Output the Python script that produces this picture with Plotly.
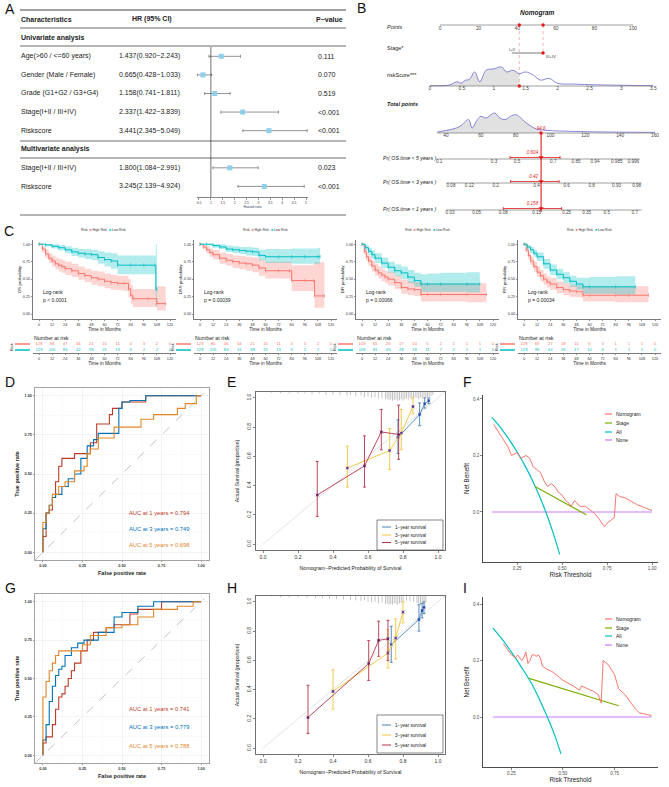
import numpy as np
import plotly.graph_objects as go

W, H = 669, 787
FF = "Liberation Sans, Arial, Helvetica, sans-serif"

# ===================== DATA =====================
# ---- A: Cox regression ----
uni_labels = ["Age(>60 / <=60 years)", "Gender (Male / Female)", "Grade (G1+G2 / G3+G4)",
              "Stage(I+II / III+IV)", "Riskscore"]
uni_hr = [1.437, 0.665, 1.158, 2.337, 3.441]
uni_lo = [0.920, 0.428, 0.741, 1.422, 2.345]
uni_hi = [2.243, 1.033, 1.811, 3.839, 5.049]
uni_p = ["0.111", "0.070", "0.519", "<0.001", "<0.001"]
multi_labels = ["Stage(I+II / III+IV)", "Riskscore"]
multi_hr = [1.800, 3.245]
multi_lo = [1.084, 2.139]
multi_hi = [2.991, 4.924]
multi_p = ["0.023", "<0.001"]
hr_ticks = [0.5, 1, 1.5, 2, 2.5, 3, 3.5, 4, 4.5, 5]

# ---- B: nomogram (positions on the "Points" scale) ----
points_ticks = [0, 20, 40, 60, 80, 100]
stage_levels = ["I+II", "III+IV"]
stage_pts = [37.3, 53.4]
rs_ticks = [0, 0.5, 1, 1.5, 2, 2.5, 3, 3.5]
rs_pt0, rs_slope = -5.2, 33.06
rs_dens_x = [0, 0.3, 0.42, 0.5, 0.55, 0.62, 0.7, 0.78, 0.88, 1.0, 1.12, 1.2, 1.3, 1.4, 1.5,
             1.62, 1.73, 1.87, 2.0, 2.25, 2.77, 3.5]
rs_dens_h = [0.02, 0.05, 0.22, 0.15, 0.3, 0.35, 0.74, 0.22, 0.83, 0.9, 1.0, 0.74, 0.83, 0.65,
             0.74, 0.57, 0.31, 0.4, 0.14, 0.1, 0.05, 0.02]
tp_ticks = [40, 60, 80, 100, 120, 140, 160]
tp_pt0, tp_slope = 3.1, 0.9025
tp_dens_x = [35, 44, 48, 53, 55, 58, 60, 63, 66, 68, 71, 74, 77, 80, 83, 85, 89, 92, 98, 113, 132, 160]
tp_dens_h = [0.05, 0.2, 0.33, 0.67, 0.25, 0.67, 0.83, 0.75, 0.92, 1.0, 0.75, 0.67, 0.83, 0.92,
             0.75, 0.58, 0.33, 0.2, 0.13, 0.08, 0.05, 0.03]
obs_rs = 1.4
obs_total = 94.6
pr5_labels = ["0.1", "0.3", "0.5", "0.7", "0.85", "0.94", "0.985", "0.996"]
pr5_pos = [-0.4, 28, 39.9, 58.7, 70.5, 80.3, 91.6, 100.2]
pr3_labels = ["0.08", "0.12", "0.2", "0.4", "0.6", "0.8", "0.93", "0.98"]
pr3_pos = [5.7, 15.2, 28.8, 50.1, 65.6, 78.6, 91.5, 101.9]
pr1_labels = ["0.03", "0.05", "0.08", "0.15", "0.25", "0.35", "0.5", "0.7"]
pr1_pos = [5.2, 19, 32.8, 50.1, 65.6, 76, 86.4, 101]
pr_values = ["0.604", "0.42", "0.158"]
pr_ci = [(36.3, 62.2), (36.6, 61.7), (32.8, 63.0)]

# ---- C: Kaplan-Meier (time, surv, lower, upper) ----
os_high = ([0, 3, 6, 9, 12, 15, 18, 21, 24, 30, 36, 42, 48, 54, 60, 66, 72, 78, 82, 84, 86, 100, 108, 116],
           [1, .93, .86, .80, .76, .72, .70, .68, .65, .62, .58, .55, .52, .50, .47, .45, .44, .44, .36, .27, .22, .22, .15, .15],
           [1, .88, .80, .73, .68, .64, .61, .59, .56, .53, .49, .46, .42, .40, .37, .35, .34, .33, .24, .15, .10, .10, .05, .05],
           [1, .97, .92, .87, .84, .81, .79, .77, .75, .72, .68, .65, .62, .61, .58, .56, .55, .55, .50, .42, .36, .36, .40, .40])
os_low = ([0, 6, 12, 18, 24, 30, 36, 42, 48, 54, 60, 66, 72, 84, 96, 106, 107, 108],
          [1, .99, .97, .95, .92, .89, .87, .86, .85, .81, .78, .76, .70, .70, .70, .70, .36, .36],
          [1, .97, .94, .91, .87, .83, .81, .79, .77, .72, .68, .65, .57, .57, .57, .57, .10, .10],
          [1, 1, 1, .99, .97, .95, .93, .93, .92, .90, .88, .87, .84, .84, .84, .84, 1, 1])
dss_high = ([0, 3, 6, 9, 12, 18, 24, 30, 36, 42, 48, 54, 60, 72, 82, 84, 96, 104, 105, 114],
            [1, .96, .92, .88, .85, .80, .77, .75, .73, .72, .70, .66, .62, .62, .62, .48, .48, .48, .26, .26],
            [1, .93, .87, .82, .78, .72, .69, .66, .64, .62, .60, .55, .51, .51, .50, .33, .33, .32, .09, .09],
            [1, .99, .97, .94, .92, .88, .86, .84, .83, .82, .81, .78, .75, .75, .75, .70, .70, .72, .74, .74])
dss_low = ([0, 6, 12, 18, 24, 30, 36, 42, 48, 54, 60, 72, 84, 96, 108, 110],
           [1, 1, .98, .96, .93, .92, .91, .90, .89, .84, .82, .82, .82, .82, .82, .82],
           [1, .98, .95, .93, .89, .87, .86, .84, .83, .77, .73, .73, .72, .72, .72, .72],
           [1, 1, 1, 1, .98, .97, .96, .96, .95, .92, .93, .93, .94, .94, .95, .95])
dfi_high = ([0, 2, 4, 6, 9, 12, 15, 18, 21, 24, 30, 36, 42, 48, 54, 60, 72, 96, 114],
            [1, .90, .82, .76, .69, .63, .59, .56, .53, .50, .45, .38, .36, .35, .28, .28, .28, .28, .28],
            [1, .85, .76, .69, .61, .55, .51, .47, .44, .41, .36, .29, .27, .26, .18, .18, .18, .17, .17],
            [1, .95, .89, .84, .77, .72, .68, .65, .62, .60, .55, .49, .47, .46, .44, .44, .44, .44, .44])
dfi_low = ([0, 3, 6, 9, 12, 18, 24, 30, 36, 42, 48, 54, 60, 72, 96, 108],
           [1, .95, .90, .85, .80, .73, .67, .62, .59, .53, .48, .43, .43, .43, .43, .43],
           [1, .91, .85, .79, .73, .66, .59, .54, .50, .44, .39, .32, .32, .32, .31, .31],
           [1, .99, .95, .91, .87, .81, .75, .71, .68, .63, .59, .57, .58, .59, .60, .60])
pfi_high = ([0, 2, 4, 6, 9, 12, 15, 18, 21, 24, 30, 36, 42, 48, 54, 60, 84, 96, 114],
            [1, .92, .84, .76, .68, .60, .55, .50, .46, .43, .38, .35, .33, .32, .27, .27, .27, .27, .27],
            [1, .88, .78, .70, .61, .53, .47, .42, .38, .35, .30, .27, .25, .24, .18, .18, .17, .17, .17],
            [1, .96, .89, .82, .75, .68, .63, .58, .54, .52, .47, .44, .42, .41, .40, .40, .40, .40, .40])
pfi_low = ([0, 3, 6, 9, 12, 18, 24, 30, 36, 42, 48, 54, 60, 84, 102],
           [1, .96, .92, .87, .82, .72, .63, .57, .52, .47, .43, .39, .39, .39, .39],
           [1, .93, .87, .82, .76, .65, .56, .50, .44, .39, .35, .29, .29, .28, .28],
           [1, .99, .96, .92, .88, .79, .71, .65, .60, .55, .52, .52, .53, .54, .55])
risk_times = [0, 12, 24, 36, 48, 60, 72, 84, 96, 108, 120]
os_risk_high = [128, 94, 47, 34, 21, 15, 11, 4, 3, 2, 0]
os_risk_low = [129, 116, 86, 42, 35, 21, 13, 5, 2, 2, 0]
dss_risk_high = [123, 80, 46, 34, 21, 15, 11, 4, 3, 2, 0]
dss_risk_low = [128, 115, 84, 41, 38, 21, 13, 5, 2, 2, 0]
dfi_risk_high = [109, 55, 26, 17, 10, 5, 2, 1, 1, 1, 0]
dfi_risk_low = [118, 81, 45, 28, 18, 11, 7, 2, 1, 1, 0]
pfi_risk_high = [128, 69, 27, 18, 11, 6, 3, 1, 1, 1, 0]
pfi_risk_low = [129, 95, 44, 26, 17, 10, 6, 1, 1, 1, 0]
km_pvals = ["p < 0.0001", "p = 0.00039", "p = 0.00066", "p = 0.00034"]
km_ytitles = ["OS probability", "DSS probability", "DFI probability", "PFI probability"]

# ---- D / G: time-dependent ROC ----
rocD = {
    "1": ([0, 0, .02, .02, .04, .06, .08, .10, .12, .16, .20, .22, .30, .34, .36, .42, .44, .50, .50, .65, .70, 1],
          [0, .10, .10, .20, .25, .27, .35, .45, .55, .60, .60, .63, .63, .70, .82, .82, .88, .92, .96, .96, 1, 1]),
    "3": ([0, 0, .02, .04, .06, .08, .12, .16, .20, .24, .28, .32, .35, .40, .48, .50, .55, .65, .72, 1],
          [0, .12, .15, .25, .30, .35, .37, .42, .47, .50, .60, .68, .72, .76, .76, .92, .96, .97, 1, 1]),
    "5": ([0, 0, .02, .04, .06, .10, .14, .20, .26, .28, .30, .35, .45, .50, .62, .70, .85, .90, .97, 1],
          [0, .13, .19, .25, .30, .37, .42, .45, .52, .55, .63, .66, .73, .80, .80, .85, .88, .92, .95, 1]),
}
aucD = ["0.794", "0.749", "0.698"]
rocG = {
    "1": ([0, .02, .06, .08, .10, .12, .14, .16, .18, .20, .24, .28, .32, .36, .40, .45, .55, .60, .75, .80, 1],
          [0, .08, .12, .20, .30, .38, .40, .45, .50, .55, .60, .68, .75, .80, .80, .83, .85, .92, .95, 1, 1]),
    "3": ([0, .02, .04, .06, .08, .10, .12, .14, .18, .22, .26, .35, .45, .50, .60, .70, .78, 1],
          [0, .10, .20, .35, .45, .52, .56, .58, .65, .70, .73, .75, .80, .90, .93, .97, 1, 1]),
    "5": ([0, 0, .02, .04, .06, .08, .10, .14, .25, .30, .40, .50, .60, .70, .85, .95, 1],
          [0, .34, .38, .48, .55, .60, .65, .68, .68, .72, .78, .83, .85, .90, .95, .97, 1]),
}
aucG = ["0.741", "0.779", "0.788"]

# ---- E / H: calibration (pred, obs, lower, upper) ----
calE = [
    ([.771, .895, .924, .947], [.73, .886, .96, .98], [.62, .81, .93, .96], [.85, .965, 1.0, 1.0]),
    ([.482, .724, .79, .857], [.52, .64, .76, .94], [.39, .51, .645, .89], [.67, .79, .92, 1.0]),
    ([.31, .58, .676, .775], [.336, .535, .767, .75], [.19, .39, .645, .58], [.565, .74, .92, .95]),
]
calH = [
    ([.733, .891, .909, .92], [.708, .879, .94, .963], [.587, .80, .89, .92], [.833, .98, .99, 1.0]),
    ([.40, .714, .758, .80], [.388, .65, .753, .93], [.267, .548, .61, .856], [.536, .81, .884, 1.0]),
    ([.257, .604, .661, .714], [.21, .578, .737, .747], [.10, .463, .628, .60], [.43, .735, .868, .874]),
]
rugE_x = [0.05, 0.1, 0.15, 0.2, 0.24, 0.28, 0.32, 0.36, 0.4, 0.44, 0.48, 0.5, 0.53, 0.56, 0.58, 0.6,
          0.62, 0.64, 0.66, 0.68, 0.7, 0.71, 0.72, 0.73, 0.74, 0.75, 0.76, 0.77, 0.78, 0.79, 0.8, 0.81,
          0.82, 0.83, 0.84, 0.85, 0.86, 0.87, 0.88, 0.89, 0.9, 0.91, 0.92, 0.93, 0.94, 0.95, 0.96, 0.97]
rugE_h = [0.006, 0.008, 0.01, 0.012, 0.01, 0.015, 0.012, 0.02, 0.018, 0.02, 0.025, 0.02, 0.03, 0.025,
          0.035, 0.03, 0.04, 0.035, 0.045, 0.04, 0.05, 0.045, 0.055, 0.05, 0.06, 0.055, 0.05, 0.06,
          0.055, 0.05, 0.06, 0.05, 0.045, 0.055, 0.04, 0.05, 0.045, 0.035, 0.04, 0.05, 0.035, 0.045,
          0.03, 0.04, 0.035, 0.03, 0.025, 0.02]
rugH_x = [0.05, 0.1, 0.15, 0.2, 0.25, 0.3, 0.34, 0.38, 0.42, 0.46, 0.5, 0.53, 0.56, 0.58, 0.6, 0.62,
          0.64, 0.66, 0.68, 0.7, 0.71, 0.72, 0.73, 0.74, 0.75, 0.76, 0.77, 0.78, 0.79, 0.8, 0.82, 0.84,
          0.86, 0.88, 0.89, 0.9, 0.91, 0.92, 0.93]
rugH_h = [0.005, 0.008, 0.01, 0.01, 0.012, 0.015, 0.015, 0.02, 0.02, 0.025, 0.025, 0.03, 0.035, 0.03,
          0.04, 0.045, 0.04, 0.05, 0.045, 0.055, 0.05, 0.06, 0.055, 0.06, 0.05, 0.055, 0.06, 0.05,
          0.045, 0.04, 0.03, 0.035, 0.04, 0.05, 0.055, 0.06, 0.05, 0.06, 0.04]

# ---- F / I: decision curves ----
F_nomo_x = [.12, .15, .18, .20, .22, .25, .27, .30, .32, .34, .36, .38, .40, .42, .44, .46, .48, .50,
            .52, .54, .55, .57, .60, .63, .65, .66, .68, .70, .72, .735, .75, .77, .79, .80, .82, .85,
            .88, .92, .96, 1.0]
F_nomo_y = [.31, .28, .25, .23, .20, .21, .19, .20, .19, .16, .15, .14, .11, .09, .10, .09, .07, .06,
            .04, .03, .02, .04, .02, .02, .01, .005, -.005, -.02, -.04, -.052, -.04, -.03, -.02, .065,
            .055, .05, .04, .025, .015, .005]
F_stage_x = [0.35, 0.635]
F_stage_y = [0.09, -0.01]
F_all_x = [0.11, 0.15, 0.2, 0.25, 0.3, 0.35, 0.4, 0.45, 0.487]
F_all_y = [0.335, 0.306, 0.262, 0.213, 0.157, 0.092, 0.017, -0.073, -0.15]
F_none_x = [0.11, 1.0]
I_nomo_x = [.21, .23, .25, .27, .28, .30, .31, .32, .33, .34, .35, .36, .37, .38, .39, .40, .42, .45,
            .48, .50, .55, .58, .59, .62, .65, .67, .68, .685, .695, .72, .75, .77, .80, .82, .85, .87,
            .90, .93]
I_nomo_y = [.26, .24, .22, .21, .22, .20, .21, .23, .19, .20, .22, .22, .215, .22, .21, .18, .17, .16,
            .14, .13, .11, .095, .11, .10, .09, .08, .06, .05, .20, .185, .15, .10, .08, .06, .03, .015,
            .01, .005]
I_stage_x = [0.335, 0.77]
I_stage_y = [0.137, 0.04]
I_all_x = [0.16, 0.2, 0.25, 0.3, 0.35, 0.4, 0.43, 0.46, 0.49]
I_all_y = [0.315, 0.28, 0.23, 0.175, 0.115, 0.04, -0.01, -0.065, -0.13]
I_none_x = [0.16, 0.93]

# ===================== HELPERS =====================
traces, shapes, anns, lay = [], [], [], {}


def names(i):
    return ("x" if i == 1 else f"x{i}"), ("y" if i == 1 else f"y{i}")


def add_axes(i, xpx, ypx, xr, yr, xkw=None, ykw=None):
    xa, ya = names(i)
    base = dict(showgrid=False, zeroline=False, visible=False, fixedrange=True)
    dx = dict(base, domain=[xpx[0] / W, xpx[1] / W], range=xr, anchor=ya)
    dy = dict(base, domain=[1 - ypx[1] / H, 1 - ypx[0] / H], range=yr, anchor=xa)
    if xkw:
        dx.update(xkw)
    if ykw:
        dy.update(ykw)
    lay["xaxis" if i == 1 else f"xaxis{i}"] = dx
    lay["yaxis" if i == 1 else f"yaxis{i}"] = dy
    return xa, ya


def sc(xa, ya, **kw):
    kw.setdefault("showlegend", False)
    kw.setdefault("hoverinfo", "skip")
    traces.append(go.Scatter(xaxis=xa, yaxis=ya, **kw))


def txt(px, py, s, size=6, color="#222", xanchor="left", yanchor="middle", **kw):
    anns.append(dict(x=px / W, y=1 - py / H, xref="paper", yref="paper", text=s, showarrow=False,
                     font=dict(size=size, color=color, family=FF), xanchor=xanchor,
                     yanchor=yanchor, borderpad=0, **kw))


def pline(x0, x1, y0, y1, color="#333", w=0.8, dash=None):
    shapes.append(dict(type="line", xref="paper", yref="paper", x0=x0 / W, x1=x1 / W,
                       y0=1 - y0 / H, y1=1 - y1 / H, line=dict(color=color, width=w, dash=dash)))


# ===================== PANEL A =====================
xa, ya = add_axes(1, (196.6, 308.4), (8, 197), [0.4, 5.1], [9.57, -0.6],
                  xkw=dict(visible=True, showline=True, linecolor="#333", linewidth=0.6,
                           ticks="outside", ticklen=2, tickwidth=0.5, tickcolor="#333",
                           tickvals=hr_ticks, ticktext=[f"{v:g}" for v in hr_ticks], tickangle=0,
                           tickfont=dict(size=3.3, color="#333", family=FF),
                           title=dict(text="Hazard ratio", font=dict(size=3.3, family=FF), standoff=0)))
uni_slots = [2, 3, 4, 5, 6]
multi_slots = [8, 9]
all_hr = uni_hr + multi_hr
all_lo = uni_lo + multi_lo
all_hi = uni_hi + multi_hi
shapes.append(dict(type="line", xref=xa, yref=ya, x0=1, x1=1, y0=1.5, y1=9.57,
                   line=dict(color="#333", width=0.7)))
sc(xa, ya, x=all_hr, y=uni_slots + multi_slots, mode="markers",
   marker=dict(symbol="square", size=5, color="#8ECFEA"),
   error_x=dict(type="data", symmetric=False, array=[h - m for h, m in zip(all_hi, all_hr)],
                arrayminus=[m - l for m, l in zip(all_hr, all_lo)], color="#666", thickness=0.7, width=1.5),
   cliponaxis=False)


def a_text(slot, px, s, bold=False, size=7):
    anns.append(dict(x=px / W, xref="paper", y=slot, yref=ya, text=(f"<b>{s}</b>" if bold else s),
                     showarrow=False, xanchor="left", yanchor="middle", borderpad=0,
                     font=dict(size=size, family=FF, color="#222")))


a_text(0, 20, "Characteristics", True)
a_text(0, 131, "HR (95% CI)", True)
a_text(0, 315, "P−value", True)
a_text(1, 20, "Univariate analysis", True)
a_text(7, 20, "Multivariate analysis", True)
for lab, hr, lo, hi, p, s in zip(uni_labels + multi_labels, all_hr, all_lo, all_hi, uni_p + multi_p,
                                 uni_slots + multi_slots):
    a_text(s, 20, lab)
    a_text(s, 118, f"{hr:.3f}({lo:.3f}−{hi:.3f})")
    a_text(s, 317, p)
for yy, ww in [(10, 1.0), (28, 0.8), (46, 0.8), (141, 0.8), (158, 0.8), (215, 0.8)]:
    pline(20, 346, yy, yy, "#444", ww)

# ===================== PANEL B =====================
xb, yb = add_axes(2, (345, 669), (0, 225), [(345 - 440) / 1.93, (669 - 440) / 1.93], [225, 0])
AX = "#777"
ROW = dict(points=25, stage=53, rs=86, total=133, pr5=159, pr3=183, pr1=210)


def bline(xs, ys, color=AX, w=0.7, dash=None):
    sc(xb, yb, x=xs, y=ys, mode="lines", line=dict(color=color, width=w, dash=dash), cliponaxis=False)


def btext(xs, y, texts, size=4.8, color="#444", pos="middle center"):
    sc(xb, yb, x=xs, y=[y] * len(xs), mode="text", text=texts, textposition=pos,
       textfont=dict(size=size, color=color, family=FF), cliponaxis=False)


def rs2p(v):
    return rs_pt0 + rs_slope * np.asarray(v, dtype=float)


def tp2p(t):
    return tp_pt0 + (np.asarray(t, dtype=float) - 40) * tp_slope


obs_rs_p = float(rs2p(obs_rs))
obs_tp_p = float(tp2p(obs_total))

txt(537, 13, "<b><i>Nomogram</i></b>", 6.5, "#222", "center")
# Points
bline([0, 100], [ROW["points"]] * 2)
btext(points_ticks, ROW["points"] + 3.5, [str(v) for v in points_ticks])
txt(386, 27, "<i>Points</i>", 5.5)
# red guide lines
bline([obs_rs_p, obs_rs_p], [ROW["points"], ROW["rs"]], "#F08080", 0.6, "dot")
bline([stage_pts[1], stage_pts[1]], [ROW["points"], ROW["stage"]], "#F08080", 0.6, "dot")
sc(xb, yb, x=[obs_rs_p, stage_pts[1]], y=[ROW["points"]] * 2, mode="markers",
   marker=dict(color="#E41A1C", size=3.5), cliponaxis=False)
# Stage
txt(386, 48, "Stage*", 5.5)
bline(stage_pts, [ROW["stage"]] * 2, "#555", 0.8)
btext([stage_pts[0]], ROW["stage"] - 3.5, [stage_levels[0]], 4.2)
btext([stage_pts[1] + 4], ROW["stage"] + 4, [stage_levels[1]], 4.2)
sc(xb, yb, x=[stage_pts[1]], y=[ROW["stage"]], mode="markers", marker=dict(color="#E41A1C", size=3.5),
   cliponaxis=False)


def density(xp, hrel, base, hmax, fill_to):
    xp = np.asarray(xp, dtype=float)
    yv = base - np.asarray(hrel) * hmax
    xf = np.linspace(xp[0], fill_to, 60)
    yf = np.interp(xf, xp, yv)
    sc(xb, yb, x=list(xf) + [fill_to, xp[0]], y=list(yf) + [base, base], mode="lines",
       fill="toself", fillcolor="rgba(200,200,200,0.55)", line=dict(width=0), cliponaxis=False)
    sc(xb, yb, x=list(xp), y=list(yv), mode="lines", line=dict(color="#6A6AD0", width=0.8, shape="spline"),
       cliponaxis=False)


# riskScore
txt(386, 75, "riskScore***", 5.5)
density(rs2p(rs_dens_x), rs_dens_h, ROW["rs"], 19, obs_rs_p)
bline([float(rs2p(0)), float(rs2p(3.5))], [ROW["rs"]] * 2)
btext(list(rs2p(rs_ticks)), ROW["rs"] + 3, [f"{v:g}" for v in rs_ticks])
sc(xb, yb, x=[obs_rs_p], y=[ROW["rs"]], mode="markers", marker=dict(color="#E41A1C", size=3.5),
   cliponaxis=False)
# Total points
txt(386, 104, "<b><i>Total points</i></b>", 5.5)
density(tp2p(tp_dens_x), tp_dens_h, ROW["total"], 20, obs_tp_p)
bline([float(tp2p(35)), float(tp2p(160))], [ROW["total"]] * 2)
btext(list(tp2p(tp_ticks)), ROW["total"] + 3, [str(v) for v in tp_ticks])
bline([obs_tp_p, obs_tp_p], [ROW["total"], ROW["pr1"] + 2], "#E41A1C", 1.1)
btext([obs_tp_p], ROW["total"] - 4, [f"<i>{obs_total}</i>"], 4.5, "#E41A1C")
sc(xb, yb, x=[obs_tp_p], y=[ROW["total"]], mode="markers", marker=dict(color="#E41A1C", size=3.5),
   cliponaxis=False)
# Probability rows
pr_rows = [("Pr( OS.time < 5 years )", pr5_labels, pr5_pos, ROW["pr5"], (-1.7, 103.6)),
           ("Pr( OS.time < 3 years )", pr3_labels, pr3_pos, ROW["pr3"], (3.1, 104.4)),
           ("Pr( OS.time < 1 years )", pr1_labels, pr1_pos, ROW["pr1"], (3.1, 104.4))]
for (lab, tl, tpos, yrow, ext), val, ci in zip(pr_rows, pr_values, pr_ci):
    txt(437, yrow - 1, f"<i>{lab}</i>", 5.2, "#222", "right")
    bline(list(ext), [yrow, yrow])
    btext(tpos, yrow + 2.5, tl, 4.6)
    bline(list(ci), [yrow - 1.5] * 2, "#E41A1C", 0.8)
    for c in ci:
        bline([c, c], [yrow - 3, yrow], "#E41A1C", 0.8)
    sc(xb, yb, x=[obs_tp_p], y=[yrow - 1.5], mode="markers",
       marker=dict(symbol="triangle-down", color="#E41A1C", size=4.5), cliponaxis=False)
    btext([obs_tp_p - 1.5], yrow - 6, [f"<i>{val}</i>"], 4.6, "#E41A1C", "middle left")

# ===================== PANEL C =====================
km_data = [(os_high, os_low, os_risk_high, os_risk_low),
           (dss_high, dss_low, dss_risk_high, dss_risk_low),
           (dfi_high, dfi_low, dfi_risk_high, dfi_risk_low),
           (pfi_high, pfi_low, pfi_risk_high, pfi_risk_low)]
KM_LEFT = [33, 194, 356, 518]
KM_W = 143
RED, TEAL = "#F8766D", "#00BFC4"
tick12 = list(range(0, 121, 12))
for k, (hi_c, lo_c, rh, rl) in enumerate(km_data):
    L = KM_LEFT[k]
    xk, yk = add_axes(3 + k, (L, L + KM_W), (240, 319), [-5.5, 125.5], [-0.07, 1.06],
                      xkw=dict(visible=True, showline=True, linecolor="#222", linewidth=0.6, ticks="outside",
                               ticklen=1.5, tickwidth=0.5, tickcolor="#222", tickvals=tick12, tickangle=0,
                               tickfont=dict(size=3.8, color="#333", family=FF),
                               title=dict(text="Time in Months", font=dict(size=4.8, family=FF, color="#222"),
                                          standoff=1)),
                      ykw=dict(visible=True, showline=True, linecolor="#222", linewidth=0.6, ticks="outside",
                               ticklen=1.5, tickwidth=0.5, tickcolor="#222", tickvals=[0, .25, .5, .75, 1],
                               ticktext=["0.00", "0.25", "0.50", "0.75", "1.00"],
                               tickfont=dict(size=3.8, color="#333", family=FF),
                               title=dict(text=km_ytitles[k], font=dict(size=4.3, family=FF, color="#222"),
                                          standoff=1)))
    for (t, s, lo, up), col, fc in [(hi_c, RED, "rgba(248,118,109,0.3)"), (lo_c, TEAL, "rgba(0,191,196,0.3)")]:
        sc(xk, yk, x=t, y=lo, mode="lines", line=dict(width=0, shape="hv"))
        sc(xk, yk, x=t, y=up, mode="lines", line=dict(width=0, shape="hv"), fill="tonexty", fillcolor=fc)
    for (t, s, lo, up), col in [(hi_c, RED), (lo_c, TEAL)]:
        sc(xk, yk, x=t, y=s, mode="lines+markers", line=dict(color=col, width=1, shape="hv"),
           marker=dict(symbol="line-ns", size=2.5, line=dict(color=col, width=0.6)))
    anns.append(dict(x=2, y=0.32, xref=xk, yref=yk, text="Log-rank", showarrow=False, xanchor="left",
                     font=dict(size=5, family=FF, color="#222")))
    anns.append(dict(x=2, y=0.2, xref=xk, yref=yk, text=km_pvals[k], showarrow=False, xanchor="left",
                     font=dict(size=5, family=FF, color="#222")))
    txt(L + 71, 230, f"Risk  <span style='color:{RED}'>■</span> High Risk  "
                     f"<span style='color:{TEAL}'>■</span> Low Risk", 3.4, "#333", "center")
    # risk table
    xr_, yr_ = add_axes(7 + k, (L, L + KM_W), (341, 353), [-5.5, 125.5], [-0.5, 1.5],
                        xkw=dict(visible=True, showline=True, linecolor="#222", linewidth=0.6, ticks="outside",
                                 ticklen=1.5, tickwidth=0.5, tickcolor="#222", tickvals=tick12, tickangle=0,
                                 tickfont=dict(size=3.8, color="#333", family=FF),
                                 title=dict(text="Time in Months", font=dict(size=4.8, family=FF, color="#222"),
                                            standoff=1)))
    sc(xr_, yr_, x=risk_times, y=[1] * len(risk_times), mode="text", text=[str(v) for v in rh],
       textfont=dict(size=4.2, color=RED, family=FF), cliponaxis=False)
    sc(xr_, yr_, x=risk_times, y=[0] * len(risk_times), mode="text", text=[str(v) for v in rl],
       textfont=dict(size=4.2, color=TEAL, family=FF), cliponaxis=False)
    txt(L, 338, "Number at risk", 5.3, "#222")
    txt(L - 22, 347, "Risk", 4, "#222", "center", textangle=-90)
    pline(L - 18, L - 3, 344, 344, RED, 1.5)
    pline(L - 18, L - 3, 350, 350, TEAL, 1.5)

# ===================== ROC D / G =====================
ROC_COL = ["#BC3C29", "#0072B5", "#E18727"]


def roc_panel(i, ypx, roc, aucs, ann_py):
    kw = dict(visible=True, showline=True, mirror=True, linecolor="#8C8C8C", linewidth=0.8, showgrid=True,
              gridcolor="#EBEBEB", gridwidth=0.6, ticks="outside", ticklen=1.5, tickwidth=0.5,
              tickcolor="#333", tickvals=[0, .25, .5, .75, 1], ticktext=["0.00", "0.25", "0.50", "0.75", "1.00"],
              tickangle=0, tickfont=dict(size=3.8, color="#333", family=FF, weight="bold"),
              minor=dict(showgrid=True, gridcolor="#F6F6F6", gridwidth=0.5, tickvals=[.125, .375, .625, .875]))
    xr = dict(kw, title=dict(text="<b>False positive rate</b>", font=dict(size=5.5, family=FF, color="#222"),
                             standoff=4))
    yr = dict(kw, title=dict(text="<b>True positive rate</b>", font=dict(size=5.5, family=FF, color="#222"),
                             standoff=4))
    xd, yd = add_axes(i, (35, 209), ypx, [-0.05, 1.05], [-0.05, 1.05], xkw=xr, ykw=yr)
    sc(xd, yd, x=[-0.05, 1.02], y=[-0.05, 1.02], mode="lines", line=dict(color="#BBBBBB", width=0.9, dash="dash"))
    for key, col in zip(["1", "3", "5"], ROC_COL):
        fx, ty = roc[key]
        sc(xd, yd, x=fx, y=ty, mode="lines", line=dict(color=col, width=1.1, shape="vh"))
    for yrs, a, col, py in zip([1, 3, 5], aucs, ROC_COL, ann_py):
        txt(128, py, f"AUC at {yrs} years = {a}", 5.8, col)


roc_panel(11, (388, 560), rocD, aucD, [513, 529, 545])
roc_panel(14, (594, 763), rocG, aucG, [709, 727, 746])

# ===================== Calibration E / H =====================
CAL_COL = ["#4682B4", "#F0C43A", "#B5334A"]
CAL_DOT = ["#1F4FB0", "#6B3A8A", "#6B1F5A"]
CAL_LAB = ["1−year survival", "3−year survival", "5−year survival"]


def cal_panel(i, ypx, cal, rx, rh, leg_box, leg_y):
    kw = dict(visible=True, showline=True, mirror=True, linecolor="#333", linewidth=0.7, ticks="outside",
              ticklen=2.5, tickwidth=0.6, tickcolor="#333", tickvals=[0, .2, .4, .6, .8, 1],
              ticktext=["0.0", "0.2", "0.4", "0.6", "0.8", "1.0"],
              tickfont=dict(size=5, color="#333", family=FF))
    xr = dict(kw, tickangle=0, title=dict(text="Nomogram−Predicted Probability of Survival",
                                          font=dict(size=5.2, family=FF, color="#222"), standoff=7))
    yr = dict(kw, tickangle=-90, title=dict(text="Actual Survival (proportion)",
                                            font=dict(size=5.2, family=FF, color="#222"), standoff=5))
    xe, ye = add_axes(i, (256, 445), ypx, [-0.04, 1.04], [-0.04, 1.04], xkw=xr, ykw=yr)
    sc(xe, ye, x=[0, 1.04], y=[0, 1.04], mode="lines", line=dict(color="#DDDDDD", width=0.8))
    rxs, rys = [], []
    for xv, hv in zip(rx, rh):
        rxs += [xv, xv, None]
        rys += [1.04, 1.04 - hv, None]
    sc(xe, ye, x=rxs, y=rys, mode="lines", line=dict(color="#8A8A8A", width=0.5))
    for (pred, obs, lo, hi), col, dc in zip(cal, CAL_COL, CAL_DOT):
        sc(xe, ye, x=pred, y=obs, mode="lines", line=dict(color=col, width=0.9),
           error_y=dict(type="data", symmetric=False, array=[h - o for h, o in zip(hi, obs)],
                        arrayminus=[o - l for o, l in zip(obs, lo)], color=col, thickness=0.9, width=1.5))
        sc(xe, ye, x=pred, y=obs, mode="markers", marker=dict(symbol="x-thin", size=3.5,
                                                              line=dict(color="#9C8FB5", width=0.8)))
        sc(xe, ye, x=pred, y=obs, mode="markers", marker=dict(color=dc, size=2.6))
    x0, y0, x1, y1 = leg_box
    shapes.append(dict(type="rect", xref="paper", yref="paper", x0=x0 / W, x1=x1 / W, y0=1 - y1 / H,
                       y1=1 - y0 / H, line=dict(color="#333", width=0.6), fillcolor="white"))
    for lab, col, py in zip(CAL_LAB, CAL_COL, leg_y):
        pline(x0 + 5, x0 + 14, py, py, col, 1.0)
        txt(x0 + 17, py, lab, 4.6, "#222")


cal_panel(12, (392, 550), calE, rugE_x, rugE_h, (377, 520, 443, 550), [527, 535, 542.5])
cal_panel(15, (596, 754), calH, rugH_x, rugH_h, (377, 715, 443, 753), [725, 735, 745])

# ===================== DCA F / I =====================
DCA_COL = ["#F8766D", "#7CAE00", "#00BFC4", "#C77CFF"]
DCA_LAB = ["Nomogram", "Stage", "All", "None"]


def dca_panel(i, ypx, xr_, yr_, xt, nomo, stage, allc, none_x, leg_y):
    kw = dict(visible=True, showline=True, linecolor="#222", linewidth=0.8, ticks="outside", ticklen=2,
              tickwidth=0.6, tickcolor="#333", tickfont=dict(size=4.5, color="#4D4D4D", family=FF), tickangle=0)
    xk = dict(kw, tickvals=xt, ticktext=[f"{v:.2f}" for v in xt],
              title=dict(text="Risk Threshold", font=dict(size=6.3, family=FF, color="#222"), standoff=2))
    yk = dict(kw, tickvals=[0, 0.2, 0.4], ticktext=["0.0", "0.2", "0.4"],
              title=dict(text="Net Benefit", font=dict(size=6.3, family=FF, color="#222"), standoff=2))
    xf, yf = add_axes(i, (483, 658), ypx, xr_, yr_, xkw=xk, ykw=yk)
    sc(xf, yf, x=none_x, y=[0, 0], mode="lines", line=dict(color=DCA_COL[3], width=1.2))
    sc(xf, yf, x=allc[0], y=allc[1], mode="lines", line=dict(color=DCA_COL[2], width=1.2, shape="spline"))
    sc(xf, yf, x=stage[0], y=stage[1], mode="lines", line=dict(color=DCA_COL[1], width=1.2))
    sc(xf, yf, x=nomo[0], y=nomo[1], mode="lines", line=dict(color=DCA_COL[0], width=1.0))
    for lab, col, py in zip(DCA_LAB, DCA_COL, leg_y):
        pline(605, 612, py, py, col, 1.2)
        txt(615, py, lab, 5, "#222")


dca_panel(13, (395, 562), [0.061, 1.033], [-0.177, 0.414], [0.25, 0.5, 0.75, 1.0],
          (F_nomo_x, F_nomo_y), (F_stage_x, F_stage_y), (F_all_x, F_all_y), F_none_x, [414, 423, 432, 440])
dca_panel(16, (597, 767), [0.112, 0.961], [-0.177, 0.425], [0.25, 0.5, 0.75],
          (I_nomo_x, I_nomo_y), (I_stage_x, I_stage_y), (I_all_x, I_all_y), I_none_x, [619, 628, 636, 645])

# ===================== panel letters =====================
for lab, px, py in [("A", 4, 9), ("B", 356, 8), ("C", 3, 231), ("D", 4, 382), ("E", 226, 382),
                    ("F", 462, 382), ("G", 4, 588), ("H", 226, 588), ("I", 462, 588)]:
    txt(px, py, lab, 14, "#111")

fig = go.Figure(data=traces)
fig.update_layout(width=W, height=H, margin=dict(l=0, r=0, t=0, b=0), paper_bgcolor="white",
                  plot_bgcolor="white", showlegend=False, shapes=shapes, annotations=anns,
                  font=dict(family=FF), **lay)
fig.write_html("out.html", config={"displayModeBar": False, "staticPlot": True},
               post_script="document.body.style.margin='0';")
